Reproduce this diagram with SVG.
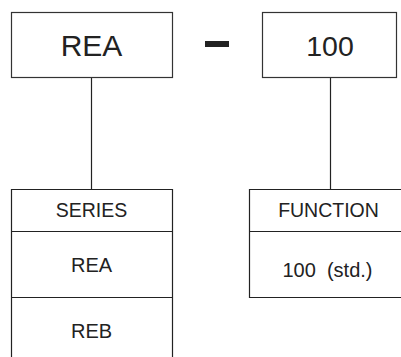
<svg xmlns="http://www.w3.org/2000/svg" width="401" height="357" viewBox="0 0 401 357">
<style>
.box{fill:#fff;stroke:#333;stroke-width:1.2}
.ln{stroke:#222;stroke-width:1.2;fill:none}
.big{font-family:"Liberation Sans",Arial,sans-serif;font-size:30px;fill:#222;text-anchor:middle}
.t{font-family:"Liberation Sans",Arial,sans-serif;font-size:20px;fill:#222;text-anchor:middle}
</style>
<rect width="401" height="357" fill="#fff"/>
<g id="connectors">
<line class="ln" x1="91.5" y1="77.5" x2="91.5" y2="189.5"/>
<line class="ln" x1="330.5" y1="77.5" x2="330.5" y2="189.5"/>
</g>
<g id="node-rea">
<rect class="box" x="11.5" y="12.5" width="161" height="65"/>
<text class="big" x="91.5" y="56">REA</text>
</g>
<g id="dash">
<rect x="205" y="41" width="24" height="6" fill="#222"/>
</g>
<g id="node-100">
<rect class="box" x="262.5" y="12.5" width="134" height="65"/>
<text class="big" x="330" y="56" style="font-size:28.5px">100</text>
</g>
<g id="node-series">
<path class="ln" d="M11.5 360 V189.5 H172.5 V360"/>
<line class="ln" x1="11.5" y1="231.5" x2="172.5" y2="231.5"/>
<line class="ln" x1="11.5" y1="297.5" x2="172.5" y2="297.5"/>
<text class="t" x="91.5" y="217" style="font-size:19.5px">SERIES</text>
<text class="t" x="91.5" y="272">REA</text>
<text class="t" x="91.5" y="338">REB</text>
</g>
<g id="node-function">
<path class="ln" d="M405 189.5 H249.5 V297.5 H405"/>
<line class="ln" x1="249.5" y1="231.5" x2="405" y2="231.5"/>
<text class="t" x="328.5" y="217" style="font-size:19.5px">FUNCTION</text>
<text class="t" x="327.5" y="277" xml:space="preserve">100  (std.)</text>
</g>
</svg>
